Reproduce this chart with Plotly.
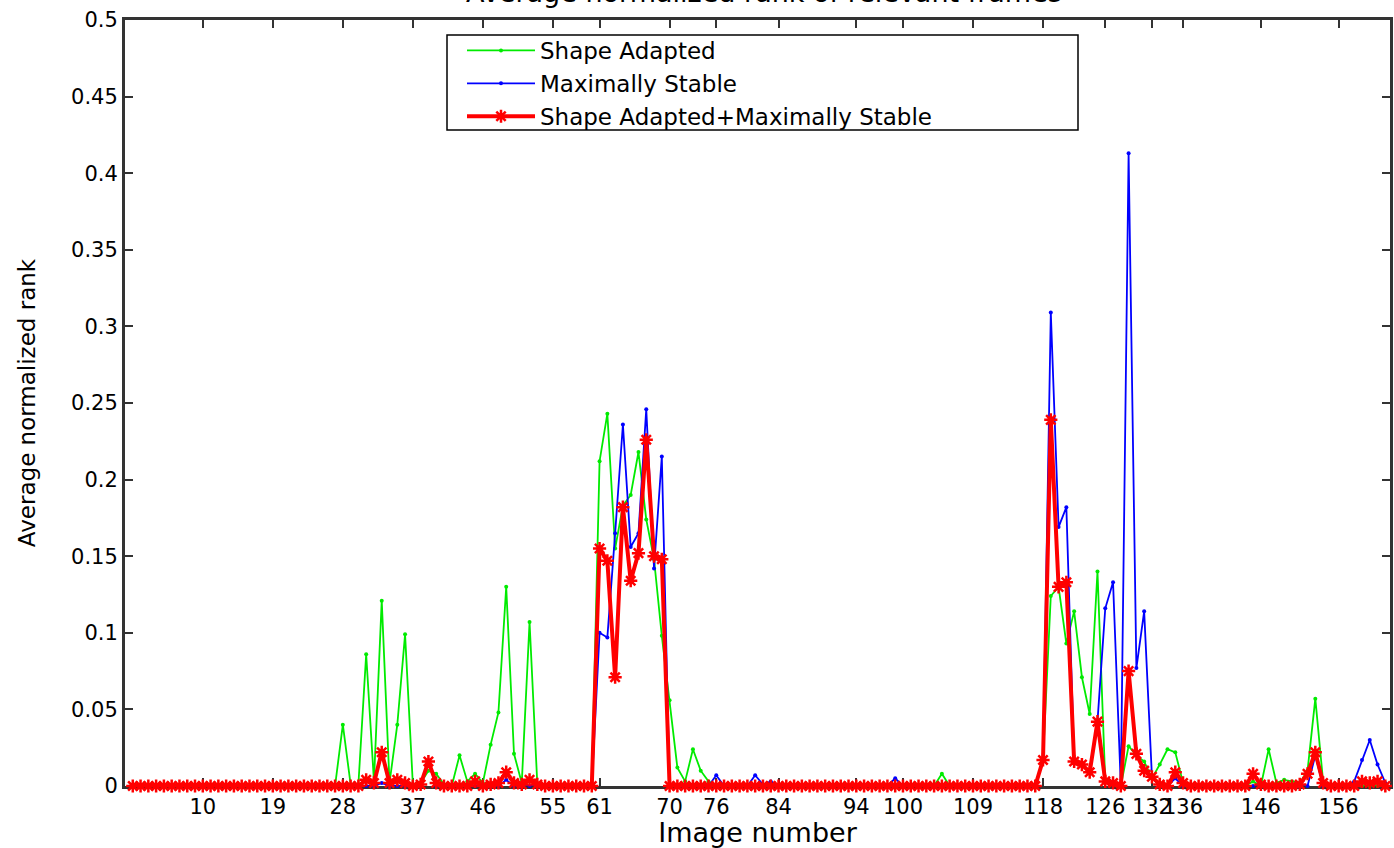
import plotly.graph_objects as go

# Image numbers 1..162
image_number = list(range(1, 163))

# Shape Adapted (green)
shape_adapted = [
    0, 0, 0, 0, 0, 0, 0, 0, 0, 0,                                   # 1-10
    0, 0, 0, 0, 0, 0, 0, 0, 0, 0,                                   # 11-20
    0, 0, 0, 0, 0, 0, 0, 0.040, 0.001, 0.001,                       # 21-30
    0.086, 0.003, 0.121, 0.002, 0.040, 0.099, 0.001, 0.002, 0.010, 0.008,  # 31-40
    0.001, 0, 0.020, 0.003, 0.008, 0.002, 0.027, 0.048, 0.130, 0.021,      # 41-50
    0.002, 0.107, 0.001, 0, 0, 0, 0, 0, 0, 0,                       # 51-60
    0.212, 0.243, 0.155, 0.183, 0.190, 0.218, 0.174, 0.148, 0.098, 0.056,  # 61-70
    0.012, 0.003, 0.024, 0.010, 0.003, 0, 0, 0, 0, 0,               # 71-80
    0, 0, 0, 0, 0, 0, 0, 0, 0, 0,                                   # 81-90
    0, 0, 0, 0, 0, 0, 0, 0, 0, 0,                                   # 91-100
    0, 0, 0, 0, 0.008, 0, 0, 0, 0, 0,                               # 101-110
    0, 0, 0, 0, 0, 0, 0, 0.017, 0.124, 0.130,                       # 111-120
    0.093, 0.114, 0.071, 0.047, 0.140, 0.003, 0.002, 0, 0.026, 0.020,      # 121-130
    0.016, 0.005, 0.014, 0.024, 0.022, 0.002, 0, 0, 0, 0,           # 131-140
    0, 0, 0, 0, 0.003, 0, 0.024, 0.002, 0.004, 0.003,               # 141-150
    0.002, 0.010, 0.057, 0.003, 0, 0, 0, 0, 0, 0,                   # 151-160
    0, 0,                                                           # 161-162
]

# Maximally Stable (blue)
maximally_stable = [
    0, 0, 0, 0, 0, 0, 0, 0, 0, 0,
    0, 0, 0, 0, 0, 0, 0, 0, 0, 0,
    0, 0, 0, 0, 0, 0, 0, 0, 0, 0,
    0, 0, 0.002, 0, 0, 0, 0, 0, 0.016, 0,
    0, 0, 0, 0, 0, 0, 0, 0, 0.004, 0,
    0, 0, 0, 0, 0, 0, 0, 0, 0, 0,
    0.100, 0.097, 0.165, 0.236, 0.156, 0.165, 0.246, 0.142, 0.215, 0,
    0, 0, 0, 0, 0, 0.007, 0, 0, 0, 0,
    0.007, 0.001, 0.003, 0, 0, 0, 0, 0, 0, 0,
    0, 0, 0, 0, 0, 0, 0, 0, 0.005, 0,
    0, 0, 0, 0, 0, 0, 0, 0, 0, 0,
    0, 0, 0, 0, 0, 0, 0, 0.017, 0.309, 0.169,
    0.182, 0.017, 0.015, 0.009, 0.042, 0.116, 0.133, 0.000, 0.413, 0.077,
    0.114, 0.006, 0, 0, 0.005, 0, 0, 0, 0, 0,
    0, 0, 0, 0, 0, 0, 0, 0, 0, 0,
    0, 0, 0.020, 0, 0, 0, 0, 0.003, 0.017, 0.030,
    0.014, 0.002,
]

# Shape Adapted + Maximally Stable (red)
combined = [
    0, 0, 0, 0, 0, 0, 0, 0, 0, 0,
    0, 0, 0, 0, 0, 0, 0, 0, 0, 0,
    0, 0, 0, 0, 0, 0, 0, 0, 0, 0,
    0.004, 0.002, 0.022, 0.002, 0.004, 0.002, 0, 0.001, 0.016, 0.002,
    0, 0, 0, 0, 0.003, 0, 0.001, 0.002, 0.009, 0.002,
    0.001, 0.004, 0.001, 0, 0, 0, 0, 0, 0, 0,
    0.155, 0.147, 0.071, 0.182, 0.134, 0.152, 0.226, 0.150, 0.148, 0,
    0, 0, 0, 0, 0, 0, 0, 0, 0, 0,
    0, 0, 0, 0, 0, 0, 0, 0, 0, 0,
    0, 0, 0, 0, 0, 0, 0, 0, 0, 0,
    0, 0, 0, 0, 0, 0, 0, 0, 0, 0,
    0, 0, 0, 0, 0, 0, 0, 0.017, 0.239, 0.130,
    0.133, 0.016, 0.014, 0.009, 0.042, 0.003, 0.002, 0, 0.075, 0.021,
    0.010, 0.006, 0.001, 0, 0.009, 0.002, 0, 0, 0, 0,
    0, 0, 0, 0, 0.008, 0.001, 0, 0, 0, 0,
    0.001, 0.008, 0.022, 0.002, 0, 0, 0, 0, 0.003, 0.002,
    0.003, 0,
]

x_tick_values = [10, 19, 28, 37, 46, 55, 61, 70, 76, 84, 94, 100, 109,
                 118, 126, 132, 136, 146, 156]
y_tick_values = [0, 0.05, 0.1, 0.15, 0.2, 0.25, 0.3, 0.35, 0.4, 0.45, 0.5]

series_names = ["Shape Adapted", "Maximally Stable",
                "Shape Adapted+Maximally Stable"]

FONT = "DejaVu Sans"
AXIS_COLOR = "#333333"

fig = go.Figure()
fig.add_trace(go.Scatter(
    x=image_number, y=shape_adapted, name=series_names[0],
    mode="lines+markers",
    line=dict(color="rgb(0,235,0)", width=1.8),
    marker=dict(color="rgb(0,235,0)", size=4, symbol="circle"),
    cliponaxis=False,
))
fig.add_trace(go.Scatter(
    x=image_number, y=maximally_stable, name=series_names[1],
    mode="lines+markers",
    line=dict(color="#0000ff", width=1.8),
    marker=dict(color="#0000ff", size=4, symbol="circle"),
    cliponaxis=False,
))
fig.add_trace(go.Scatter(
    x=image_number, y=combined, name=series_names[2],
    mode="lines+markers",
    line=dict(color="#ff0000", width=4),
    marker=dict(color="#ff0000", size=11, symbol="asterisk",
                line=dict(color="#ff0000", width=2.5)),
    cliponaxis=False,
))

fig.update_layout(
    width=1394, height=848,
    margin=dict(l=125, r=4, t=20, b=62, autoexpand=False),
    paper_bgcolor="white", plot_bgcolor="white",
    font=dict(family=FONT, color="black"),
    showlegend=True,
    legend=dict(
        x=(462 - 125) / 1265, y=(786 - 29) / 766,
        xanchor="left", yanchor="top",
        bgcolor="rgba(0,0,0,0)", borderwidth=0,
        font=dict(family=FONT, size=23, color="black"),
        itemwidth=68, tracegroupgap=0,
    ),
    shapes=[dict(
        type="rect", xref="paper", yref="paper",
        x0=(447 - 125) / 1265, x1=(1078 - 125) / 1265,
        y0=(786 - 130) / 766, y1=(786 - 35) / 766,
        line=dict(color="black", width=1.5), fillcolor="white",
        layer="below",
    )],
    xaxis=dict(
        range=[0, 162.6], tickmode="array", tickvals=x_tick_values,
        ticktext=[str(v) for v in x_tick_values], tickangle=0,
        ticks="inside", ticklen=8, tickwidth=2, tickcolor=AXIS_COLOR,
        showline=True, linewidth=3, linecolor=AXIS_COLOR, mirror="allticks",
        showgrid=False, zeroline=False, layer="below traces",
        automargin=False,
        tickfont=dict(family=FONT, size=21, color="black"),
        title=dict(text="Image number", standoff=0,
                   font=dict(family=FONT, size=27, color="black")),
    ),
    yaxis=dict(
        range=[0, 0.5], tickmode="array", tickvals=y_tick_values,
        ticktext=["0", "0.05", "0.1", "0.15", "0.2", "0.25", "0.3",
                  "0.35", "0.4", "0.45", "0.5"],
        ticks="inside", ticklen=8, tickwidth=2, tickcolor=AXIS_COLOR,
        showline=True, linewidth=3, linecolor=AXIS_COLOR, mirror="allticks",
        showgrid=False, zeroline=False, layer="below traces",
        automargin=False,
        tickfont=dict(family=FONT, size=21, color="black"),
        title=dict(text="Average normalized rank", standoff=29,
                   font=dict(family=FONT, size=23, color="black")),
    ),
    annotations=[dict(
        text="Average normalized rank of relevant frames",
        xref="paper", yref="paper", x=0.505, y=1.036,
        xanchor="center", yanchor="middle", showarrow=False,
        font=dict(family=FONT, size=27, color="black"),
    )],
)

fig.write_html("out.html")
